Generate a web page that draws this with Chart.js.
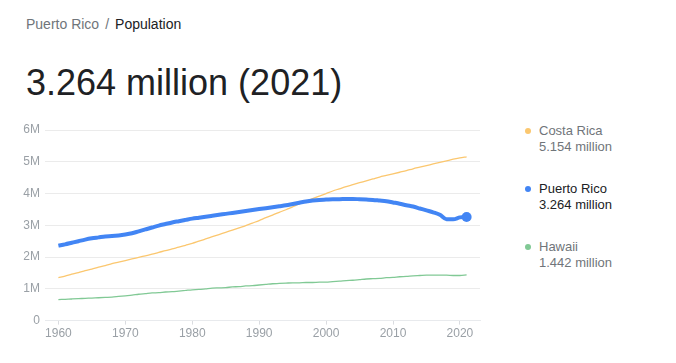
<!DOCTYPE html>
<html>
<head>
<meta charset="utf-8">
<script src="https://cdn.jsdelivr.net/npm/chart.js@4/dist/chart.umd.min.js"></script>
<style>
  html, body { margin: 0; padding: 0; background: #fff; }
  body { width: 676px; height: 363px; position: relative; overflow: hidden; font-family: "Liberation Sans", Arial, sans-serif; }
  #crumb { position: absolute; left: 26px; top: 16px; font-size: 14px; color: #70757a; white-space: nowrap; }
  #crumb .cur { color: #202124; }
  #crumb .sep { margin: 0 6px; }
  #big { position: absolute; left: 26px; top: 62px; font-size: 36px; color: #202124; white-space: nowrap; }
  #wrap { position: absolute; left: 0; top: 110px; width: 490px; height: 233px; }
  .lg { position: absolute; left: 539px; font-size: 13px; line-height: 16px; color: #70757a; white-space: nowrap; }
  .lg.sel { color: #202124; }
  .lg .dot { position: absolute; left: -14px; top: 5px; width: 6px; height: 6px; border-radius: 50%; }
</style>
</head>
<body>
<div id="crumb">Puerto Rico<span class="sep">/</span><span class="cur">Population</span></div>
<div id="big">3.264 million (2021)</div>
<div id="wrap"><canvas id="c"></canvas></div>
<div id="legend"></div>
<script>
const years = [];
for (let y = 1960; y <= 2021; y++) years.push(y);

const costaRica = [1.35,1.40,1.46,1.51,1.57,1.62,1.68,1.73,1.79,1.84,
  1.89,1.94,1.99,2.04,2.09,2.15,2.20,2.26,2.31,2.37,
  2.43,2.50,2.57,2.64,2.71,2.78,2.85,2.92,2.99,3.07,
  3.15,3.24,3.32,3.41,3.49,3.58,3.67,3.75,3.84,3.92,
  4.00,4.08,4.15,4.22,4.28,4.34,4.40,4.46,4.52,4.57,
  4.62,4.67,4.72,4.78,4.83,4.88,4.93,4.98,5.03,5.08,
  5.12,5.154];
const puertoRico = [2.36,2.40,2.45,2.50,2.55,2.59,2.62,2.65,2.66,2.68,
  2.71,2.75,2.81,2.87,2.93,2.99,3.04,3.09,3.13,3.17,
  3.21,3.24,3.27,3.30,3.33,3.36,3.39,3.42,3.45,3.48,
  3.51,3.54,3.57,3.60,3.63,3.67,3.71,3.75,3.78,3.80,
  3.81,3.82,3.82,3.83,3.83,3.82,3.81,3.80,3.78,3.76,
  3.72,3.68,3.63,3.59,3.53,3.47,3.41,3.33,3.19,3.19,
  3.25,3.264];
const hawaii = [0.66,0.67,0.68,0.69,0.70,0.71,0.72,0.73,0.74,0.76,
  0.78,0.80,0.83,0.85,0.87,0.88,0.90,0.91,0.93,0.95,
  0.97,0.98,1.00,1.02,1.03,1.04,1.06,1.07,1.09,1.10,
  1.12,1.14,1.16,1.17,1.18,1.19,1.19,1.20,1.20,1.21,
  1.21,1.23,1.24,1.26,1.27,1.29,1.31,1.32,1.33,1.35,
  1.36,1.38,1.39,1.41,1.42,1.43,1.43,1.43,1.43,1.42,
  1.42,1.442];

const xTicks = [1960,1970,1980,1990,2000,2010,2020];
const yTickLabels = ['0','1M','2M','3M','4M','5M','6M'];

const seriesNames = ['Costa Rica','Puerto Rico','Hawaii'];
const seriesLabels = ['5.154 million','3.264 million','1.442 million'];
const seriesColors = ['#fbc76f','#4285f4','#81c995'];
const seriesData = [costaRica, puertoRico, hawaii];
const selected = 1;

// legend
const legendTops = [123, 181, 239];
const lg = document.getElementById('legend');
seriesNames.forEach((n, i) => {
  const d = document.createElement('div');
  d.className = 'lg' + (i === selected ? ' sel' : '');
  d.style.top = legendTops[i] + 'px';
  d.innerHTML = '<span class="dot" style="background:' + seriesColors[i] + '"></span>' + n + '<br>' + seriesLabels[i];
  lg.appendChild(d);
});

const datasets = seriesData.map((arr, i) => {
  const isSel = i === selected;
  return {
    label: seriesNames[i],
    data: arr.map((v, k) => ({ x: years[k], y: v * 1e6 })),
    borderColor: seriesColors[i],
    backgroundColor: seriesColors[i],
    borderWidth: isSel ? 4 : 1.3,
    pointRadius: arr.map((v, k) => (isSel && k === arr.length - 1) ? 5 : 0),
    pointBorderWidth: 0,
    cubicInterpolationMode: 'monotone',
    order: isSel ? 0 : 1
  };
});

new Chart(document.getElementById('c'), {
  type: 'line',
  data: { datasets },
  options: {
    responsive: true,
    maintainAspectRatio: false,
    animation: false,
    events: [],
    layout: { padding: { top: 20, right: 10, left: 0, bottom: 0 } },
    plugins: { legend: { display: false }, tooltip: { enabled: false } },
    scales: {
      x: {
        type: 'linear',
        min: 1958, max: 2023,
        afterBuildTicks: s => { s.ticks = xTicks.map(v => ({ value: v })); },
        ticks: { color: '#9aa0a6', font: { family: 'Liberation Sans', size: 12 }, padding: 2, maxRotation: 0,
                 callback: v => String(v) },
        grid: { display: true, drawOnChartArea: false, drawTicks: true, tickLength: 4, color: '#dadce0' },
        border: { display: true, color: '#e8eaed' }
      },
      y: {
        min: 0, max: 6e6,
        ticks: { stepSize: 1e6, color: '#9aa0a6', font: { family: 'Liberation Sans', size: 12 }, padding: 5,
                 callback: (v) => yTickLabels[Math.round(v / 1e6)] },
        afterFit: s => { s.width = 45; },
        grid: { color: '#ebebeb', drawTicks: false },
        border: { display: false }
      }
    }
  }
});
</script>
</body>
</html>
